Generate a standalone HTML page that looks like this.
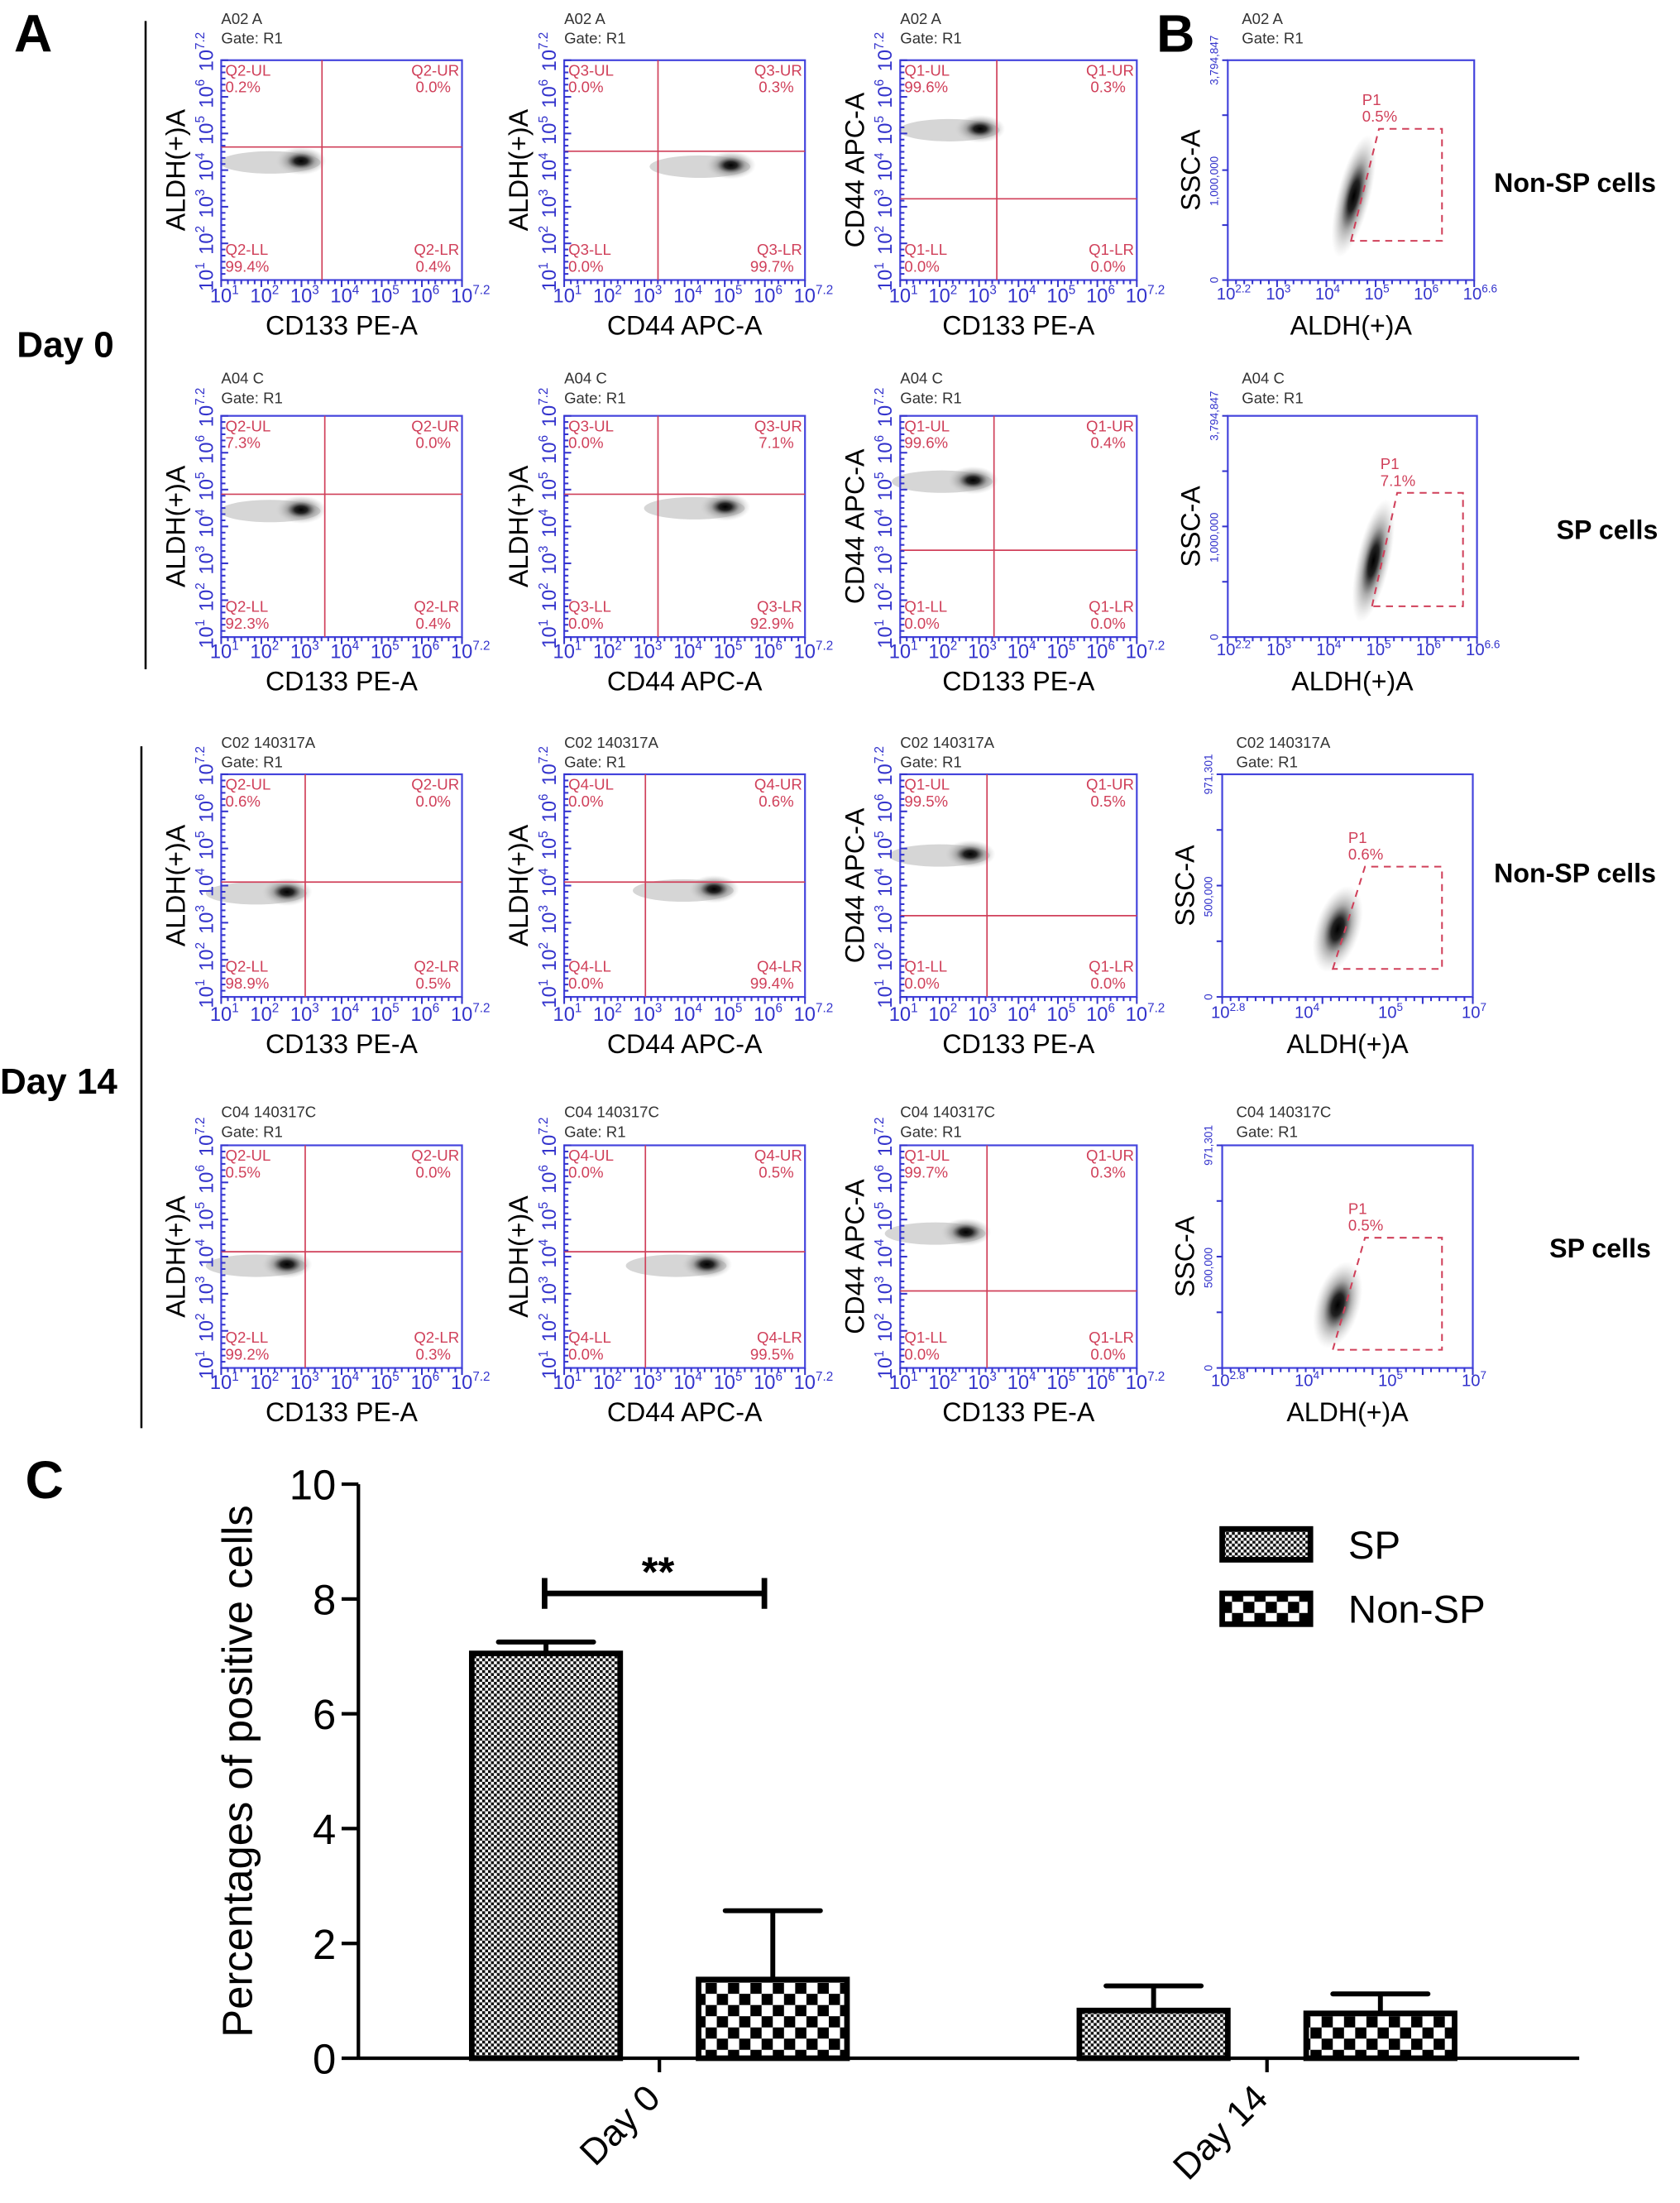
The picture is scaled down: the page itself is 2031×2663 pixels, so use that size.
<!DOCTYPE html>
<html><head><meta charset="utf-8"><style>
html,body{margin:0;padding:0;background:#fff;}
svg{display:block;font-family:"Liberation Sans",sans-serif;}
</style></head><body>
<svg id="fig" width="2031" height="2663" viewBox="0 0 1200 1573.4" preserveAspectRatio="none">
<defs>
<pattern id="fine" patternUnits="userSpaceOnUse" width="4.2" height="4.2"><rect width="4.2" height="4.2" fill="#fff"/><rect width="2.1" height="2.1" fill="#111"/><rect x="2.1" y="2.1" width="2.1" height="2.1" fill="#111"/></pattern>
<pattern id="coarse" patternUnits="userSpaceOnUse" width="16" height="16"><rect width="16" height="16" fill="#fff"/><rect width="8" height="8" fill="#000"/><rect x="8" y="8" width="8" height="8" fill="#000"/></pattern>
<radialGradient id="blob"><stop offset="0" stop-color="#000"/><stop offset="0.25" stop-color="#222"/><stop offset="0.55" stop-color="#999" stop-opacity="0.8"/><stop offset="1" stop-color="#ccc" stop-opacity="0"/></radialGradient>
</defs>
<g id="flow"></g>
<g font-weight="bold">
<text x="10" y="37" font-size="38">A</text>
<text x="826" y="37" font-size="38">B</text>
<text x="18" y="1070" font-size="38">C</text>
<text x="12" y="255" font-size="26">Day 0</text>
<text x="0" y="781" font-size="26">Day 14</text>
<line x1="104" y1="15" x2="104" y2="478" stroke="#000" stroke-width="1.5"/>
<line x1="101" y1="533" x2="101" y2="1020" stroke="#000" stroke-width="1.5"/>
<text x="1125" y="137" font-size="19" text-anchor="middle">Non-SP cells</text>
<text x="1148" y="385" font-size="19" text-anchor="middle">SP cells</text>
<text x="1125" y="630" font-size="19" text-anchor="middle">Non-SP cells</text>
<text x="1143" y="898" font-size="19" text-anchor="middle">SP cells</text>
</g>
<g id="bar"></g>
</svg>
<script>
var NS="http://www.w3.org/2000/svg";
function mk(p,t,a,txt){var e=document.createElementNS(NS,t);for(var k in a)e.setAttribute(k,a[k]);if(txt!==undefined)e.textContent=txt;p.appendChild(e);return e;}
var flow=document.getElementById('flow');
var rows=[{y0:43,y1:200,hd:17,tick:216,title:239,h1:"A02 A",h2:"A02 A",h3:"A02 A",hb:"A02 A"},
{y0:297,y1:455,hd:274,tick:470,title:493,h1:"A04 C",h2:"A04 C",h3:"A04 C",hb:"A04 C"},
{y0:553,y1:712,hd:534,tick:729,title:752,h1:"C02 140317A",h2:"C02 140317A",h3:"C02 140317A",hb:"C02 140317A"},
{y0:818,y1:977,hd:798,tick:992,title:1015,h1:"C04 140317C",h2:"C04 140317C",h3:"C04 140317C",hb:"C04 140317C"}];
var cols=[[158,330],[403,575],[643,812]];
var quad=[
[{v:230,h:105,b:[215,115],q:"Q2",p:["0.2%","0.0%","99.4%","0.4%"],xl:"CD133 PE-A",yl:"ALDH(+)A"},{v:470,h:108,b:[522,118],q:"Q3",p:["0.0%","0.3%","0.0%","99.7%"],xl:"CD44 APC-A",yl:"ALDH(+)A"},{v:712,h:142,b:[700,92],q:"Q1",p:["99.6%","0.3%","0.0%","0.0%"],xl:"CD133 PE-A",yl:"CD44 APC-A"}],
[{v:232,h:353,b:[215,364],q:"Q2",p:["7.3%","0.0%","92.3%","0.4%"],xl:"CD133 PE-A",yl:"ALDH(+)A"},{v:470,h:353,b:[518,362],q:"Q3",p:["0.0%","7.1%","0.0%","92.9%"],xl:"CD44 APC-A",yl:"ALDH(+)A"},{v:710,h:393,b:[695,343],q:"Q1",p:["99.6%","0.4%","0.0%","0.0%"],xl:"CD133 PE-A",yl:"CD44 APC-A"}],
[{v:218,h:630,b:[205,637],q:"Q2",p:["0.6%","0.0%","98.9%","0.5%"],xl:"CD133 PE-A",yl:"ALDH(+)A"},{v:461,h:630,b:[510,635],q:"Q4",p:["0.0%","0.6%","0.0%","99.4%"],xl:"CD44 APC-A",yl:"ALDH(+)A"},{v:705,h:654,b:[693,610],q:"Q1",p:["99.5%","0.5%","0.0%","0.0%"],xl:"CD133 PE-A",yl:"CD44 APC-A"}],
[{v:218,h:894,b:[205,903],q:"Q2",p:["0.5%","0.0%","99.2%","0.3%"],xl:"CD133 PE-A",yl:"ALDH(+)A"},{v:461,h:894,b:[505,903],q:"Q4",p:["0.0%","0.5%","0.0%","99.5%"],xl:"CD44 APC-A",yl:"ALDH(+)A"},{v:705,h:922,b:[690,880],q:"Q1",p:["99.7%","0.3%","0.0%","0.0%"],xl:"CD133 PE-A",yl:"CD44 APC-A"}]];
var exps=["1","2","3","4","5","6","7.2"];
rows.forEach(function(r,ri){
 cols.forEach(function(c,ci){
  var d=quad[ri][ci];
  var g=mk(flow,'g',{});
  
  
  mk(g,'text',{x:c[0],y:r.hd,'font-size':11,fill:'#333'},r['h'+(ci+1)]);
  mk(g,'text',{x:c[0],y:r.hd+14,'font-size':11,fill:'#333'},'Gate: R1');
  var b=d.b;
  mk(g,'ellipse',{cx:b[0]-22,cy:b[1]+1,rx:36,ry:8,fill:'#bbb',opacity:0.6});
  mk(g,'ellipse',{cx:b[0],cy:b[1],rx:18,ry:10,fill:'url(#blob)'});
  mk(g,'rect',{x:c[0],y:r.y0,width:c[1]-c[0],height:r.y1-r.y0,fill:'none',stroke:'#4444dd','stroke-width':1.3});
  mk(g,'line',{x1:d.v,y1:r.y0,x2:d.v,y2:r.y1,stroke:'#d0405a','stroke-width':1});
  mk(g,'line',{x1:c[0],y1:d.h,x2:c[1],y2:d.h,stroke:'#d0405a','stroke-width':1});
  var tc='#d0405a',fs=11;
  mk(g,'text',{x:c[0]+3,y:r.y0+11,'font-size':fs,fill:tc},d.q+'-UL');
  mk(g,'text',{x:c[0]+3,y:r.y0+23,'font-size':fs,fill:tc},d.p[0]);
  mk(g,'text',{x:c[1]-2,y:r.y0+11,'font-size':fs,fill:tc,'text-anchor':'end'},d.q+'-UR');
  mk(g,'text',{x:c[1]-8,y:r.y0+23,'font-size':fs,fill:tc,'text-anchor':'end'},d.p[1]);
  mk(g,'text',{x:c[0]+3,y:r.y1-18,'font-size':fs,fill:tc},d.q+'-LL');
  mk(g,'text',{x:c[0]+3,y:r.y1-6,'font-size':fs,fill:tc},d.p[2]);
  mk(g,'text',{x:c[1]-2,y:r.y1-18,'font-size':fs,fill:tc,'text-anchor':'end'},d.q+'-LR');
  mk(g,'text',{x:c[1]-8,y:r.y1-6,'font-size':fs,fill:tc,'text-anchor':'end'},d.p[3]);
  var w=c[1]-c[0],h=r.y1-r.y0;
  for(var i=0;i<=36;i++){var tx=c[0]+w*i/36;mk(g,'line',{x1:tx,y1:r.y1,x2:tx,y2:r.y1+(i%6==0?5:3),stroke:'#3333cc','stroke-width':1.2});
   var ty=r.y0+h*i/36;mk(g,'line',{x1:c[0],y1:ty,x2:c[0]+(i%6==0?5:3),y2:ty,stroke:'#3333cc','stroke-width':1.2});}
  exps.forEach(function(e,k){
   var tx=c[0]+w*k/6;var t=mk(g,'text',{x:tx-8,y:r.tick,'font-size':14,fill:'#3333cc'},'10');
   mk(t,'tspan',{dy:-6,'font-size':9},e);
   var ty=r.y1-h*k/6;var t2=mk(g,'text',{transform:'translate('+(c[0]-6)+','+(ty+8)+') rotate(-90)','font-size':14,fill:'#3333cc'},'10');
   mk(t2,'tspan',{dy:-6,'font-size':9},e);
  });
  mk(g,'text',{x:(c[0]+c[1])/2,y:r.title,'font-size':19,'text-anchor':'middle'},d.xl);
  mk(g,'text',{transform:'translate('+(c[0]-26)+','+((r.y0+r.y1)/2)+') rotate(-90)','font-size':19,'text-anchor':'middle'},d.yl);
 });
 var bx=[[877,1053],[877,1055],[873,1052],[873,1052]][ri];
 var gates=[[965,172,985,92,1030],[980,433,998,352,1045],[952,692,975,619,1030],[952,964,975,884,1030]][ri];
 var pct=["0.5%","7.1%","0.6%","0.5%"][ri];
 var g=mk(flow,'g',{});
 
 
 mk(g,'text',{x:bx[0]+10,y:r.hd,'font-size':11,fill:'#333'},r.hb);
 mk(g,'text',{x:bx[0]+10,y:r.hd+14,'font-size':11,fill:'#333'},'Gate: R1');
 var gx=gates;var mx=(gx[0]+gx[2])/2-8,my=(gx[1]+gx[3])/2+8;
 var ang=Math.atan2(gx[1]-gx[3],gx[0]-gx[2])*180/Math.PI;
 mk(g,'ellipse',{cx:mx,cy:my,rx:ri<2?45:32,ry:ri<2?12:16,fill:'url(#blob)',transform:'rotate('+ang+' '+mx+' '+my+')'});
 mk(g,'rect',{x:bx[0],y:r.y0,width:bx[1]-bx[0],height:r.y1-r.y0,fill:'none',stroke:'#4444dd','stroke-width':1.3});
 mk(g,'polygon',{points:gx[0]+','+gx[1]+' '+gx[2]+','+gx[3]+' '+gx[4]+','+gx[3]+' '+gx[4]+','+gx[1],fill:'none',stroke:'#d0405a','stroke-width':1.2,'stroke-dasharray':'5,4'});
 mk(g,'text',{x:gx[2]-12,y:gx[3]-17,'font-size':11,fill:'#d0405a'},'P1');
 mk(g,'text',{x:gx[2]-12,y:gx[3]-5,'font-size':11,fill:'#d0405a'},pct);
 var bw=bx[1]-bx[0];
 for(var i=0;i<=30;i++){var tx=bx[0]+bw*i/30;mk(g,'line',{x1:tx,y1:r.y1,x2:tx,y2:r.y1+(i%6==0?5:3),stroke:'#3333cc','stroke-width':1.2});}
 for(var i=0;i<=4;i++){var ty=r.y1-(r.y1-r.y0)*i/4;mk(g,'line',{x1:bx[0]-4,y1:ty,x2:bx[0],y2:ty,stroke:'#3333cc','stroke-width':1.2});}
 var xt=ri<2?["2.2","3","4","5","6","6.6"]:["2.8","4","5","7"];
 xt.forEach(function(e,k){var tx=bx[0]+bw*k/(xt.length-1);var t=mk(g,'text',{x:tx-8,y:r.tick-2,'font-size':12,fill:'#3333cc'},'10');mk(t,'tspan',{dy:-5,'font-size':8},e);});
 var yt=ri<2?["0","1,000,000","3,794,847"]:["0","500,000","971,301"];
 yt.forEach(function(e,k){var ty=r.y1-(r.y1-r.y0)*[0,0.45,1][k];mk(g,'text',{transform:'translate('+(bx[0]-7)+','+ty+') rotate(-90)','font-size':8,fill:'#3333cc','text-anchor':'middle'},e);});
 mk(g,'text',{x:(bx[0]+bx[1])/2,y:r.title,'font-size':19,'text-anchor':'middle'},'ALDH(+)A');
 mk(g,'text',{transform:'translate('+(bx[0]-20)+','+((r.y0+r.y1)/2)+') rotate(-90)','font-size':19,'text-anchor':'middle'},'SSC-A');
});

// ---- Bar chart data ----
var categories=["Day 0","Day 14"];
var spValues=[7.1,0.88];
var spErr=[0.15,0.38];
var nonSpValues=[1.42,0.83];
var nonSpErr=[1.15,0.29];
var yTicks=[0,2,4,6,8,10];
var seriesNames=["SP","Non-SP"];

var bar=document.getElementById('bar');
var X0=256,X1=1128,Y0=1470,Ytop=1060;
function yS(v){return Y0-(v/10)*(Y0-Ytop);}
var catCenters=[471,905];
function xCat(i){return catCenters[0]+(catCenters[1]-catCenters[0])*i;}
var bw=110,gap=52;
mk(bar,'line',{x1:X0,y1:Ytop,x2:X0,y2:Y0+1,stroke:'#000','stroke-width':2.5});
mk(bar,'line',{x1:X0,y1:Y0,x2:X1,y2:Y0,stroke:'#000','stroke-width':2.5});
yTicks.forEach(function(t){
 var y=yS(t);
 mk(bar,'line',{x1:X0-12,y1:y,x2:X0,y2:y,stroke:'#000','stroke-width':2.5});
 var tx=mk(bar,'text',{x:X0-16,y:y+11,'font-size':30,'text-anchor':'end'},String(t));
 
 
});
var yt=mk(bar,'text',{transform:'translate(180,1265) rotate(-90)','font-size':30,'text-anchor':'middle'},'Percentages of positive cells');


categories.forEach(function(c,i){
 var cx=xCat(i);
 mk(bar,'line',{x1:cx,y1:Y0,x2:cx,y2:Y0+10,stroke:'#000','stroke-width':2.5});
 var t=mk(bar,'text',{transform:'translate('+(cx+2)+','+(Y0+30)+') rotate(-45)','font-size':26,'text-anchor':'end'},c);
 
 
 [[spValues,spErr,'url(#fine)',-1],[nonSpValues,nonSpErr,'url(#coarse)',1]].forEach(function(s,si){
  var left=s[3]<0?cx-gap/2-bw:cx+gap/2;
  var v=s[0][i],e=s[1][i];
  var r=mk(bar,'rect',{x:left+2,y:yS(v)+2,width:bw-4,height:Y0-yS(v)-2,fill:s[2],stroke:'#000','stroke-width':4});
  
  
  var mid=left+bw/2;
  var el=mk(bar,'path',{d:'M'+mid+','+yS(v)+'V'+yS(v+e)+'M'+(mid-34)+','+yS(v+e)+'H'+(mid+34),stroke:'#000','stroke-width':3.5,fill:'none','stroke-linecap':'round'});
  
  
 });
});
var sig=mk(bar,'g',{});


mk(sig,'path',{d:'M389,1127V1149M389,1138H546M546,1127V1149',stroke:'#000','stroke-width':4,fill:'none'});
mk(sig,'text',{x:470,y:1133,'font-size':30,'text-anchor':'middle','font-weight':'bold'},'**');
seriesNames.forEach(function(n,i){
 var lg=mk(bar,'g',{});
 
 
 var y=1092+i*46;
 mk(lg,'rect',{x:873,y:y,width:63,height:22,fill:i==0?'url(#fine)':'url(#coarse)',stroke:'#000','stroke-width':4});
 mk(lg,'text',{x:963,y:y+21,'font-size':28},n);
});
</script>
</body></html>
